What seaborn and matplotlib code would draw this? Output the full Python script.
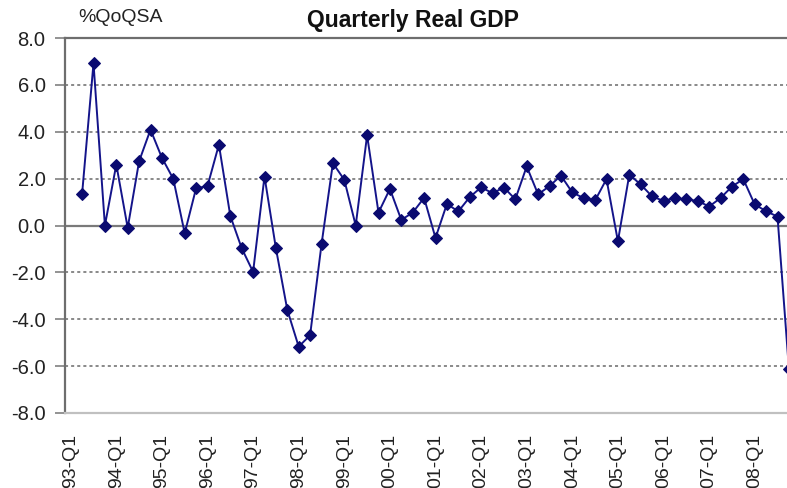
import matplotlib
matplotlib.use("Agg")
import matplotlib.pyplot as plt
import seaborn as sns
import pandas as pd
import numpy as np

# ---- data ----
years = ["93", "94", "95", "96", "97", "98", "99", "00",
         "01", "02", "03", "04", "05", "06", "07", "08"]
quarters = [f"{y}-Q{q}" for y in years for q in (1, 2, 3, 4)]
gdp = [np.nan, 1.35, 6.92, 0.0,
       2.60, -0.10, 2.74, 4.09,
       2.89, 1.99, -0.33, 1.59,
       1.68, 3.45, 0.41, -0.97,
       -1.98, 2.09, -0.97, -3.60,
       -5.17, -4.68, -0.81, 2.66,
       1.95, 0.00, 3.85, 0.55,
       1.56, 0.24, 0.55, 1.18,
       -0.53, 0.92, 0.60, 1.21,
       1.63, 1.38, 1.62, 1.12,
       2.52, 1.33, 1.68, 2.13,
       1.41, 1.17, 1.07, 1.98,
       -0.67, 2.17, 1.75, 1.24,
       1.05, 1.17, 1.11, 1.05,
       0.81, 1.17, 1.66, 1.98,
       0.90, 0.61, 0.38, -6.11]
y_ticks = [-8, -6, -4, -2, 0, 2, 4, 6, 8]
y_tick_labels = ["-8.0", "-6.0", "-4.0", "-2.0", "0.0", "2.0", "4.0", "6.0", "8.0"]
title = "Quarterly Real GDP"
unit_label = "%QoQSA"

df = pd.DataFrame({"pos": np.arange(len(quarters)), "quarter": quarters, "gdp": gdp})

sns.set_style("white")
plt.rcParams["font.family"] = ["Liberation Sans", "DejaVu Sans"]
plt.rcParams["axes.unicode_minus"] = False

W, H = 787, 488
fig = plt.figure(figsize=(W / 100, H / 100), dpi=100)
ax = fig.add_axes([65 / W, 75 / H, 741 / W, 375 / H])

sns.lineplot(data=df, x="pos", y="gdp", ax=ax, color="#14148a", linewidth=1.4,
             marker="D", markersize=6, markeredgecolor="#0a0a70",
             markerfacecolor="#0a0a70", zorder=5)

ax.set_xlim(-0.5, 64.5)
ax.set_ylim(-8, 8)

ax.set_yticks(y_ticks)
ax.set_yticklabels(y_tick_labels)
q1_pos = [i for i, q in enumerate(quarters) if q.endswith("Q1")]
ax.set_xticks(q1_pos)
ax.set_xticklabels([quarters[i] for i in q1_pos], rotation=90, va="top", ha="center")

ax.tick_params(axis="y", which="both", left=True, length=7, width=1.2,
               color="#808080", pad=7, labelsize=14.5, labelcolor="#222222")
ax.tick_params(axis="x", which="both", bottom=False, length=0, pad=15,
               labelsize=14, labelcolor="#222222")

# gridlines
for v in y_ticks:
    if v in (-8, 8):
        continue
    if v == 0:
        ax.axhline(v, color="#7a7a7a", linewidth=1.6, zorder=2)
    else:
        ax.axhline(v, color="#6a6a6a", linewidth=1.1, linestyle=(0, (2, 2)), zorder=1)

for side in ("left", "top"):
    ax.spines[side].set_color("#6e6e6e")
    ax.spines[side].set_linewidth(1.6)
ax.spines["bottom"].set_color("#c0c0c0")
ax.spines["bottom"].set_linewidth(1.6)
ax.spines["right"].set_visible(False)

ax.set_xlabel("")
ax.set_ylabel("")

fig.text(413 / W, 1 - 21 / H, title, ha="center", va="center",
         fontsize=16.5, fontweight="bold", color="#111111")
fig.text(78 / W, 1 - 18 / H, unit_label, ha="left", va="center",
         fontsize=14, color="#222222")

fig.savefig("out.png", dpi=100, facecolor="white")
